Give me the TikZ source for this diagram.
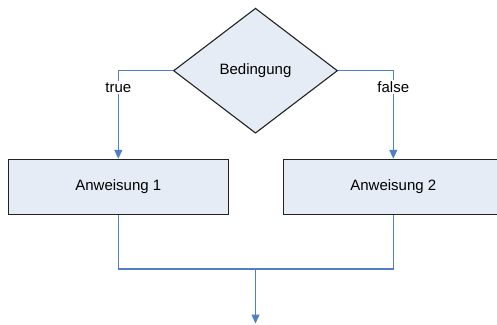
\documentclass[tikz,border=0pt]{standalone}
\usepackage{fontspec}
\setmainfont{Liberation Sans}
\usetikzlibrary{shapes.geometric, arrows.meta, positioning}
\definecolor{flowfill}{HTML}{E6ECF6}
\definecolor{flowline}{HTML}{4F7FC4}
\definecolor{flowborder}{HTML}{222222}
\tikzset{
  decision/.style={diamond, draw=flowborder, fill=flowfill, line width=1.1pt,
                   minimum width=164pt, minimum height=125pt, inner sep=0pt,
                   aspect=1.31, font=\fontsize{15}{18}\selectfont},
  actionbox/.style={rectangle, draw=flowborder, fill=flowfill, line width=1.1pt,
                    minimum width=220pt, minimum height=55pt, inner sep=0pt,
                    font=\fontsize{15}{18}\selectfont},
  flow/.style={-{Triangle[length=9pt,width=8pt]}, line width=1.2pt, draw=flowline},
  flowplain/.style={line width=1.2pt, draw=flowline},
  flowlabel/.style={fill=white, inner sep=1.5pt, font=\fontsize{15}{18}\selectfont},
}
\begin{document}
\begin{tikzpicture}[x=1pt, y=-1pt]
  \useasboundingbox (0,0) rectangle (497,324);

  \node[decision] (cond) at (255.5,70.7) {Bedingung};
  \node[actionbox] (a1) at (118.3,186.8) {Anweisung 1};
  \node[actionbox] (a2) at (393.3,186.8) {Anweisung 2};

  \coordinate (join) at (255.5,269);
  \coordinate (out) at (255.5,323.5);

  % branches
  \draw[flow] (cond.west) -| node[flowlabel, pos=0.594] (ltrue) {true} (a1.north);
  \draw[flow] (cond.east) -| node[flowlabel, pos=0.594] (lfalse) {false} (a2.north);

  % merge
  \draw[flowplain] (a1.south) |- (join) -| (a2.south);
  \draw[flow] (join) -- (out);
\end{tikzpicture}
\end{document}
